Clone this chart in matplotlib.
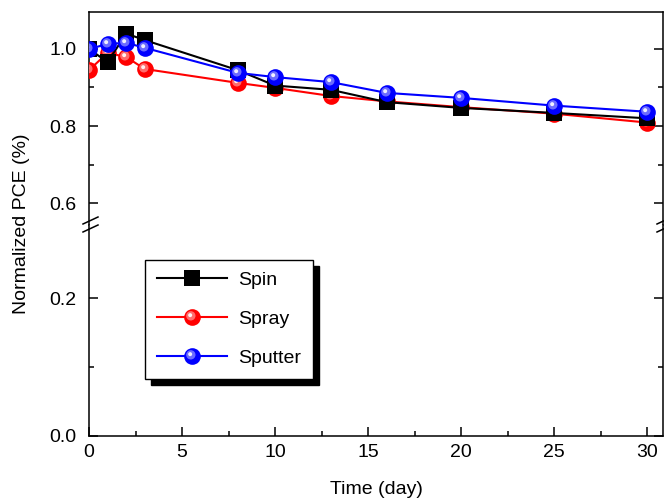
import matplotlib
matplotlib.use("Agg")
import matplotlib.pyplot as plt
import numpy as np
from matplotlib.path import Path
from matplotlib.lines import Line2D
from matplotlib.legend_handler import HandlerTuple
from matplotlib.ticker import FixedLocator

plt.rcParams['font.family'] = ['Liberation Sans', 'DejaVu Sans']

# ---- data ----
days = [0, 1, 2, 3, 8, 10, 13, 16, 20, 25, 30]
spin = [1.000, 0.966, 1.040, 1.023, 0.945, 0.905, 0.894, 0.862, 0.847, 0.834, 0.820]
spray = [0.945, 0.990, 0.979, 0.948, 0.912, 0.899, 0.878, 0.864, 0.849, 0.832, 0.809]
sputter = [1.000, 1.013, 1.016, 1.003, 0.938, 0.927, 0.914, 0.886, 0.873, 0.853, 0.837]
labels = ["Spin", "Spray", "Sputter"]
xticks = [0, 5, 10, 15, 20, 25, 30]
yticks_top = [0.6, 0.8, 1.0]
yticks_bot = [0.0, 0.2]

FS = 14
W, H = 664, 500
fig = plt.figure(figsize=(W / 100, H / 100), dpi=100)

L, R = 89, 663
T, BRK, B = 12, 225, 436
ax_top = fig.add_axes([L / W, 1 - BRK / H, (R - L) / W, (BRK - T) / H])
ax_bot = fig.add_axes([L / W, 1 - B / H, (R - L) / W, (B - BRK) / H], sharex=ax_top)

ax_top.set_ylim(0.543, 1.096)
ax_bot.set_ylim(0.0, 0.306)
ax_top.set_xlim(0, 30.86)

for ax in (ax_top, ax_bot):
    for s in ax.spines.values():
        s.set_linewidth(1.1)
    ax.tick_params(which='both', direction='in', right=True, top=False,
                   labelsize=FS, width=1.1)
    ax.tick_params(which='major', length=6.5)
    ax.tick_params(which='minor', length=3.5)
    ax.tick_params(axis='y', pad=9)
    ax.tick_params(axis='x', pad=6)
ax_top.spines['bottom'].set_visible(False)
ax_bot.spines['top'].set_visible(False)
ax_top.tick_params(axis='x', which='both', bottom=False, labelbottom=False)

ax_top.yaxis.set_major_locator(FixedLocator(yticks_top))
ax_top.yaxis.set_minor_locator(FixedLocator([0.7, 0.9]))
ax_top.set_yticklabels([f"{v:.1f}" for v in yticks_top])
ax_bot.yaxis.set_major_locator(FixedLocator(yticks_bot))
ax_bot.yaxis.set_minor_locator(FixedLocator([0.1]))
ax_bot.set_yticklabels([f"{v:.1f}" for v in yticks_bot])
ax_bot.xaxis.set_major_locator(FixedLocator(xticks))
ax_bot.xaxis.set_minor_locator(FixedLocator([2.5, 7.5, 12.5, 17.5, 22.5, 27.5]))
ax_bot.set_xticklabels([str(v) for v in xticks])

# sphere highlight markers (offset circles, anchored to full marker extent)
def highlight_path(cx, cy, r):
    circ = Path.circle((cx, cy), r)
    verts = np.vstack([[[0.5, 0.5]], [[-0.5, -0.5]], circ.vertices])
    codes = np.concatenate([[Path.MOVETO, Path.MOVETO], circ.codes])
    return Path(verts, codes)

hl1 = highlight_path(-0.1, 0.1, 0.28)
hl2 = highlight_path(-0.14, 0.14, 0.12)

MS_SQ = 11
MS_C = 12
LW = 1.5

def sphere(ax, x, y, color, light, z, label=None):
    main, = ax.plot(x, y, '-', color=color, lw=LW, marker='o', ms=MS_C,
                    mfc=color, mec=color, mew=0, zorder=z, label=label)
    h1, = ax.plot(x, y, ls='none', marker=hl1, ms=MS_C, mfc=light, mec='none',
                  alpha=0.7, zorder=z + 0.1)
    h2, = ax.plot(x, y, ls='none', marker=hl2, ms=MS_C, mfc='white', mec='none',
                  alpha=0.9, zorder=z + 0.2)
    return (main, h1, h2)

l_spray = sphere(ax_top, days, spray, '#ff0000', '#ff9a9a', 3)
l_spin, = ax_top.plot(days, spin, '-', color='black', lw=LW, marker='s', ms=MS_SQ,
                      mfc='black', mec='black', mew=0, zorder=4)
l_sput = sphere(ax_top, days, sputter, '#0000ff', '#9a9aff', 5)

leg = ax_bot.legend([(l_spin,), l_spray, l_sput], labels,
                    handler_map={tuple: HandlerTuple(ndivide=1, pad=0)},
                    loc='upper left', bbox_to_anchor=((145 - L) / (R - L), (B - 260) / (B - BRK)),
                    borderaxespad=0, fontsize=FS, handlelength=3.6, handletextpad=0.6,
                    labelspacing=1.1, borderpad=0.6, frameon=True, fancybox=False,
                    shadow={'color': 'black', 'alpha': 1.0, 'ox': 4, 'oy': -4})
leg.get_frame().set_edgecolor('black')
leg.get_frame().set_linewidth(1.0)

# axis break marks
for xs in (L, R):
    for yc in (221, 229):
        fig.add_artist(Line2D([(xs - 6) / W, (xs + 9) / W],
                              [1 - (yc + 3) / H, 1 - (yc - 4) / H],
                              color='black', lw=1.1, transform=fig.transFigure))

fig.text((L + R) / 2 / W, 1 - 490 / H, "Time (day)", ha='center', va='center', fontsize=FS)
fig.text(22 / W, 1 - (T + B) / 2 / H, "Normalized PCE (%)", rotation=90,
         ha='center', va='center', fontsize=FS)

fig.savefig("out.png", dpi=100)
